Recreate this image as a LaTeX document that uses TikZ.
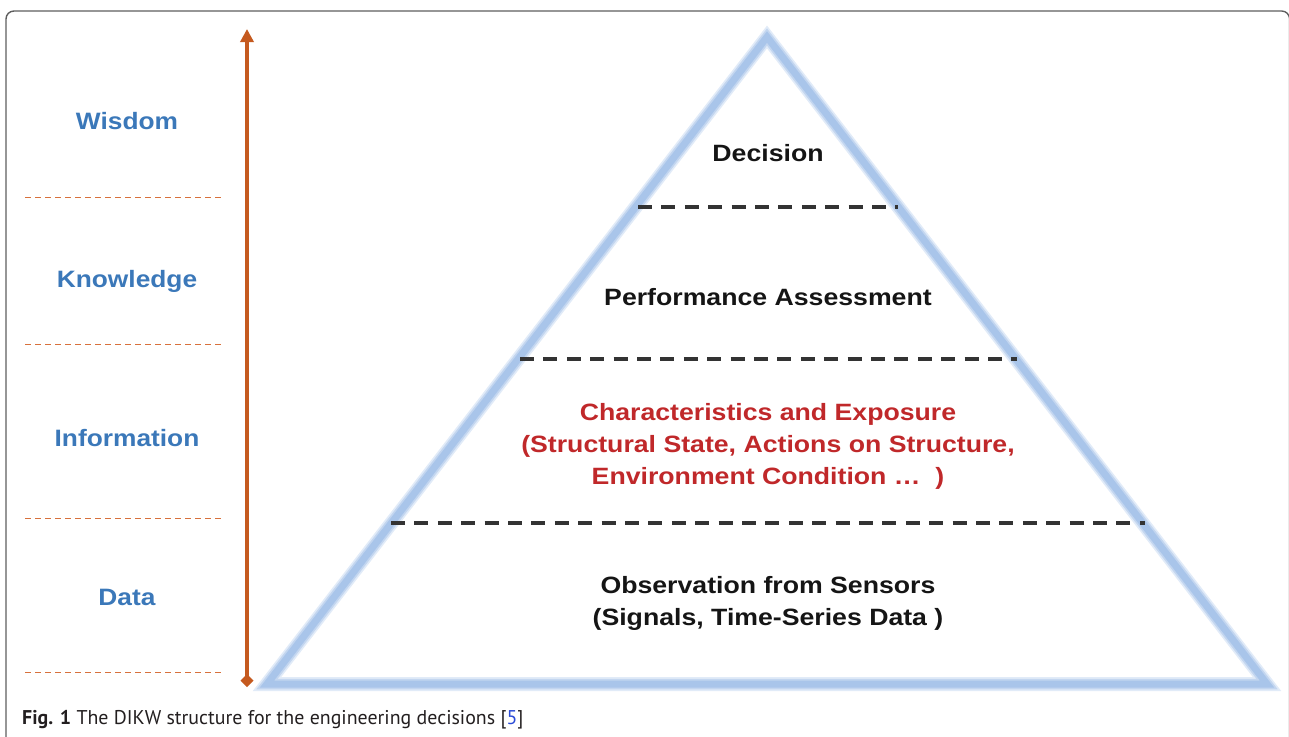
\documentclass[tikz,border=0pt]{standalone}
\usepackage{fontspec}
\setmainfont{Liberation Sans}
\newfontfamily\bodyfont[FakeStretch=1.13]{Liberation Sans}
\newfontfamily\lblfont[FakeStretch=1.11]{Liberation Sans}
\newfontfamily\capfont{PT Sans}
\usetikzlibrary{arrows.meta}
\definecolor{lblblue}{HTML}{3B78B9}
\definecolor{arrorange}{HTML}{C55A1F}
\definecolor{dashorange}{HTML}{D8713C}
\definecolor{tri}{HTML}{A9C5EA}
\definecolor{txtred}{HTML}{C0282A}
\definecolor{txtblack}{HTML}{151515}
\definecolor{framegray}{HTML}{5E5E5E}
\definecolor{refblue}{HTML}{2A4BD7}
\definecolor{capgray}{HTML}{231F20}
\begin{document}
\begin{tikzpicture}[x=1pt,y=-1pt,
  level/.style={anchor=base,inner sep=0pt,text=lblblue,font=\lblfont\fontsize{23.7}{28}\selectfont\bfseries},
  body/.style={anchor=base,inner sep=0pt,align=center,text=txtblack,font=\bodyfont\fontsize{23.6}{32}\selectfont\bfseries},
  sep/.style={draw=dashorange,line width=1pt,dash pattern=on 6pt off 4pt},
  tierline/.style={draw=black!80,line width=3.2pt,dash pattern=on 14pt off 9.4pt},
  edge1/.style={draw=tri!35,line width=14pt,line join=miter},
  edge2/.style={draw=tri!70,line width=10.5pt,line join=miter},
  edge3/.style={draw=tri,line width=7pt,line join=miter},
  axis/.style={draw=arrorange,line width=4.5pt,{Diamond[width=13pt,length=13pt]}-{Triangle[width=13pt,length=13pt]}}
]
\useasboundingbox (0,0) rectangle (1289,736);
% frame
\draw[framegray,line width=1.4pt,rounded corners=8pt] (6,745) -- (6,11) -- (1289.6,11) -- (1289.6,745);
% pyramid
\coordinate (apex) at (767,37);
\coordinate (bl) at (267,684);
\coordinate (br) at (1267,684);
\foreach \s in {edge1,edge2,edge3}{
  \path[\s] (apex) -- (bl) -- (br) -- cycle;
}
% tier lines
\coordinate (t1a) at (638,207); \coordinate (t1b) at (898,207);
\coordinate (t2a) at (520,359); \coordinate (t2b) at (1017,359);
\coordinate (t3a) at (391,523); \coordinate (t3b) at (1145,523);
\draw[tierline] (t1a) -- (t1b);
\draw[tierline] (t2a) -- (t2b);
\draw[tierline] (t3a) -- (t3b);
% left separators
\coordinate (s1a) at (25,197); \coordinate (s1b) at (221,197);
\coordinate (s2a) at (25,344); \coordinate (s2b) at (221,344);
\coordinate (s3a) at (25,518); \coordinate (s3b) at (221,518);
\coordinate (s4a) at (25,672); \coordinate (s4b) at (221,672);
\draw[sep] (s1a) -- (s1b);
\draw[sep] (s2a) -- (s2b);
\draw[sep] (s3a) -- (s3b);
\draw[sep] (s4a) -- (s4b);
% axis arrow
\coordinate (axbot) at (247,687);
\coordinate (axtop) at (247,29);
\draw[axis] (axbot) -- (axtop);
% level labels
\node[level] (wis) at (127,129) {Wisdom};
\node[level] (kno) at (127,287) {Knowledge};
\node[level] (inf) at (127,446) {Information};
\node[level] (dat) at (127,605) {Data};
% tier texts (base anchor = baseline of last line)
\node[body] (dec) at (768,161) {Decision};
\node[body] (perf) at (768,305) {Performance Assessment};
\node[body,text=txtred] (char) at (768,484) {Characteristics and Exposure\\(Structural State, Actions on Structure,\\Environment Condition \dots\ \ )};
\node[body] (obs) at (768,625) {Observation from Sensors\\(Signals, Time-Series Data )};
% caption
\node[anchor=base west,inner sep=0pt,text=capgray,font=\capfont\fontsize{19.9}{22}\selectfont] (cap) at (22,724) {\textbf{Fig. 1} The DIKW structure for the engineering decisions [\textcolor{refblue}{5}]};
\end{tikzpicture}
\end{document}
